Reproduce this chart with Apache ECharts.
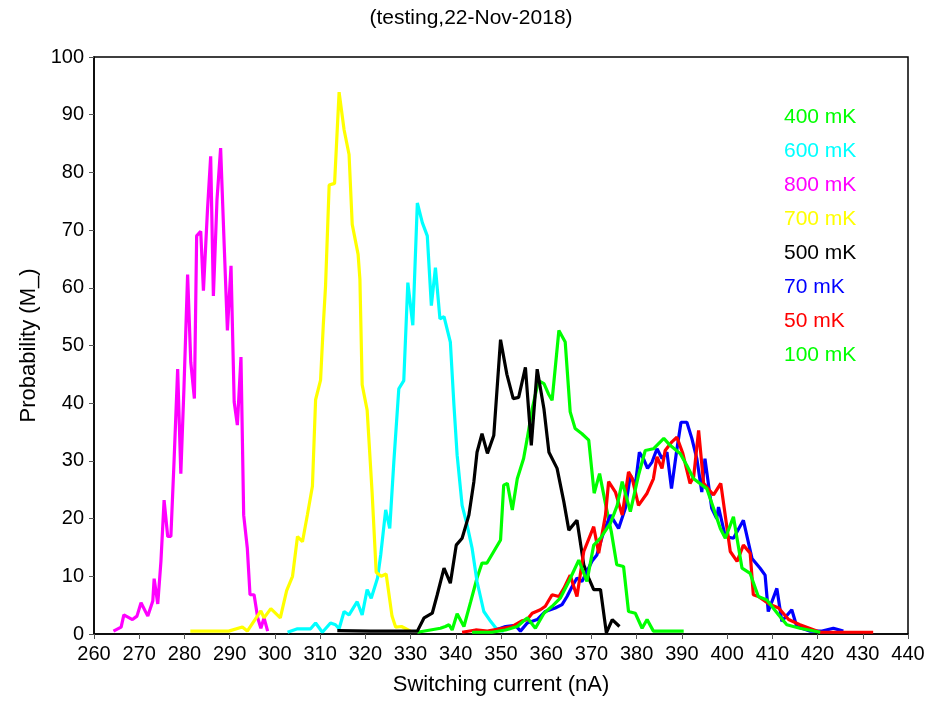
<!DOCTYPE html>
<html>
<head>
<meta charset="utf-8">
<script src="https://cdn.jsdelivr.net/npm/echarts@6/dist/echarts.min.js"></script>
<style>html,body{margin:0;padding:0;background:#fff}#c{width:942px;height:701px}</style>
</head>
<body>
<div id="c"></div>
<script>
var titleText = "(testing,22-Nov-2018)";
var xName = "Switching current (nA)";
var yName = "Probability (M_)";
var seriesNames = ["400 mK","600 mK","800 mK","700 mK","500 mK","70 mK","50 mK","100 mK"];
var seriesColors = ["#00ff00","#00ffff","#ff00ff","#ffff00","#000000","#0000ff","#ff0000","#00ff00"];

var d400 = [[331.5,0.3],[334.4,0.7],[336.6,1],[337.7,1.3],[338.5,1.6],[339.2,0.7],[340.3,3.5],[341.8,1.3],[343.3,5.6],[344.7,9.7],[345.8,12.3],[346.9,12.3],[348.4,14.3],[349.9,16.3],[350.6,25.8],[351.4,26.1],[352.5,21.5],[353.6,26.9],[355,30.4],[355.8,33.9],[356.9,39],[358.3,43.9],[359.5,43.4],[360.5,41.6],[361.3,40.5],[362.8,52.6],[364.2,50.6],[365.3,38.5],[366.4,35.6],[367.9,34.7],[369.4,33.6],[370.6,24.4],[371.8,27.8],[373.1,22.6],[374.4,17.7],[375.6,12],[377.1,11.7],[378.2,3.9],[379.7,3.6],[381.2,1],[382.3,2.5],[383.7,0.5],[390.4,0.5]];
var d600 = [[302.8,0.3],[305,0.9],[307.9,0.9],[309,1.9],[310.5,0.3],[312.3,1.9],[313.4,1.6],[314.2,0.9],[315.3,3.9],[316.4,3.3],[318.2,5.6],[319.3,3.3],[320.4,7.7],[321.3,6.2],[322.7,9.7],[323.4,13.7],[324.5,21.5],[325.4,18.3],[326.3,29.8],[327.4,42.5],[328.5,43.9],[329.4,60.9],[330.5,53.5],[331.5,74.7],[332.6,71.3],[333.7,69],[334.6,56.9],[335.5,63.5],[336.5,54.6],[337.4,55],[338.8,50.6],[339.6,39.6],[340.3,31],[341.4,22.3],[342.5,18.9],[343.6,14.9],[344.7,9.1],[346.2,3.9],[347.7,2.2],[349.2,0.7],[350.6,0.5]];
var d800 = [[264.3,0.5],[266,1.2],[266.6,3.3],[268.5,2.5],[269.5,3.1],[270.4,5.4],[271.9,3.1],[273,5.7],[273.3,9.6],[274.1,5.2],[274.8,12.6],[275.5,23.2],[276.3,16.9],[277,16.9],[277.7,29.9],[278.5,45.9],[279.2,27.8],[279.9,42.8],[280.7,62.3],[281.4,47.1],[282.2,40.8],[282.7,69],[283.6,69.8],[284.2,59.5],[285.1,73.6],[285.8,82.8],[286.4,58.6],[287.2,75.3],[288,84.2],[288.8,67.2],[289.5,52.6],[290.3,63.8],[291,40.2],[291.7,36.2],[292.5,48],[293.1,20.6],[293.9,14.9],[294.5,6.8],[295.4,6.8],[296.2,2.8],[296.9,1],[297.6,2.8],[298.4,0.5]];
var d700 = [[281.3,0.5],[289.8,0.5],[292.8,1.2],[293.9,0.5],[296.9,4],[297.6,2.8],[299.1,4.4],[301.2,2.8],[302.6,7.5],[303.9,10],[305,16.9],[306.1,16],[307.2,20.7],[308.3,25.6],[309,40.6],[310.1,44],[310.7,53.5],[311.2,60.3],[312,77.8],[313.2,78.1],[314.2,93.9],[315.3,87.4],[316.4,83.1],[317.1,71],[318.4,65.8],[318.8,61.5],[319.3,43.2],[320.4,38.8],[321.5,24.5],[322.4,10.7],[323.5,10],[324.6,10.4],[325.9,3.1],[326.7,1.2],[328,1.3],[330,0.5]];
var d500 = [[313.8,0.6],[321.2,0.5],[331.5,0.5],[333,2.8],[334.8,3.6],[335.9,6.8],[337.4,11.4],[338.8,8.8],[340.1,15.4],[341.4,16.6],[342.9,20.6],[344,26.4],[344.7,31.5],[345.8,34.7],[347,31.3],[348.4,34.4],[349.9,51],[351.3,45],[352.7,40.8],[353.9,41],[355.4,46.2],[356.7,32.7],[358,45.9],[359.5,39],[360.6,31.5],[362.4,28.7],[363.9,22.9],[365,18],[366.8,19.7],[368.3,12],[369.4,9.7],[370.5,7.7],[372,7.7],[373.3,0.2],[374.6,2.5],[376.2,1.3]];
var d70 = [[348.8,0.7],[351,1.3],[353.2,1.5],[354.3,0.5],[355.8,1.9],[358,2.5],[359.8,3.9],[362,4.5],[363.5,5.1],[364.6,6.5],[365.7,8.2],[366.8,9.7],[367.9,9.1],[369,10.8],[370.1,12.6],[371.2,13.7],[372.7,17.7],[374.2,20.6],[376,18.3],[377.5,21.8],[378.6,27.5],[379.7,25.8],[380.6,31.5],[381.5,30.4],[382.4,28.7],[383.4,29.8],[384.5,32.1],[385.6,30.4],[386.7,31.5],[387.7,25.2],[388.8,31.5],[389.8,36.7],[391.1,36.7],[392.2,33.9],[393.3,30.4],[394.4,24.6],[395.1,30.4],[396.6,21.8],[397.7,20],[398.1,22],[399.6,16.9],[401.4,16.6],[403.6,19.7],[405.5,13.1],[407.3,11.4],[408.4,10.2],[409.1,3.9],[411,7.9],[412.1,2.2],[414.3,4.2],[415.4,1.3],[418.4,0.5],[421,0.5],[423.5,1],[425.7,0.5]];
var d50 = [[341.4,0.3],[344.4,0.7],[347,0.5],[350.3,1],[352.5,1.3],[354.7,2.3],[355.8,2.5],[356.9,3.6],[358.7,4.2],[359.8,4.8],[361.3,6.8],[362.8,6.5],[363.9,7.9],[365.3,10.2],[366.8,6.5],[368.3,14.3],[370.5,18.6],[371.6,14],[373.1,20.6],[373.8,26.4],[375.3,24.6],[376.8,20.6],[378.2,28.1],[379,27],[380.4,22.3],[382.3,24.4],[383.7,26.9],[384.5,30.7],[385.6,28.7],[386.3,31.8],[387.8,33.3],[388.9,34.1],[390.2,31.3],[391.8,26.1],[392.6,27.2],[393.7,35.3],[394.8,26.1],[397,24.1],[398.6,26.1],[400.7,14.3],[402.2,12.6],[403.6,15.4],[405.1,14],[405.8,6.8],[406.9,6.5],[409.5,5.1],[411.4,4.5],[413.6,2.5],[416.1,1.6],[420.6,0.3],[432.3,0.3]];
var d100 = [[343.6,0.3],[348,0.3],[351,0.7],[353.6,1.3],[355.8,2.8],[357.6,1],[359.5,3.6],[361.3,4.8],[363.1,6.2],[365,9.1],[367.2,12.8],[369,9.1],[370.5,15.4],[372,16.6],[374.2,19.2],[375.7,22.3],[376.8,26.4],[378.6,21.2],[380.4,27.5],[381.9,31.8],[383.7,32.1],[386,33.9],[387.4,32.7],[389.6,31.3],[391.1,29.2],[392.6,26.9],[395.5,25.2],[397,21.8],[398.5,18.3],[399.6,16.6],[401.4,20.3],[403.3,11.4],[405.1,10.5],[406.9,6.5],[408.8,5.9],[411.4,3.3],[413.2,1.6],[416.1,1],[420.6,0.3]];
var allData = [d400,d600,d800,d700,d500,d70,d50,d100];

var font = "'Liberation Sans', Arial, sans-serif";
var chart = echarts.init(document.getElementById('c'), null, {renderer:'canvas'});
var series = seriesNames.map(function(n,i){
  return {name:n,type:'line',data:allData[i],showSymbol:false,symbol:'none',
    lineStyle:{width:3.2,color:seriesColors[i]},itemStyle:{color:seriesColors[i]},z:2+i};
});
chart.setOption({
  animation:false,
  backgroundColor:'#fff',
  title:{text:titleText,left:'center',top:3,textStyle:{fontFamily:font,fontSize:21,fontWeight:'normal',color:'#000'}},
  grid:{left:94,right:34,top:57,bottom:65,show:true,borderColor:'#000',borderWidth:1.5,backgroundColor:'transparent'},
  legend:{orient:'vertical',left:773,top:102,itemGap:13,itemWidth:1,itemHeight:20,icon:'none',
    data:seriesNames.map(function(n,i){return {name:n,icon:'none',textStyle:{color:seriesColors[i]}};}),
    textStyle:{fontFamily:font,fontSize:21},selectedMode:false},
  xAxis:{type:'value',min:260,max:440,interval:10,name:xName,nameLocation:'middle',nameGap:40,
    nameTextStyle:{fontFamily:font,fontSize:22,color:'#000'},
    axisLine:{lineStyle:{color:'#000',width:1.5}},axisTick:{show:true,length:5,lineStyle:{color:'#555'}},
    axisLabel:{fontFamily:font,fontSize:20,color:'#000',margin:10},splitLine:{show:false}},
  yAxis:{type:'value',min:0,max:100,interval:10,name:yName,nameLocation:'middle',nameGap:49,
    nameTextStyle:{fontFamily:font,fontSize:22,color:'#000'},
    axisLine:{show:true,lineStyle:{color:'#000',width:1.5}},axisTick:{show:true,length:5,lineStyle:{color:'#555'}},
    axisLabel:{fontFamily:font,fontSize:20,color:'#000',margin:10},splitLine:{show:false}},
  series:series
});
</script>
</body>
</html>
